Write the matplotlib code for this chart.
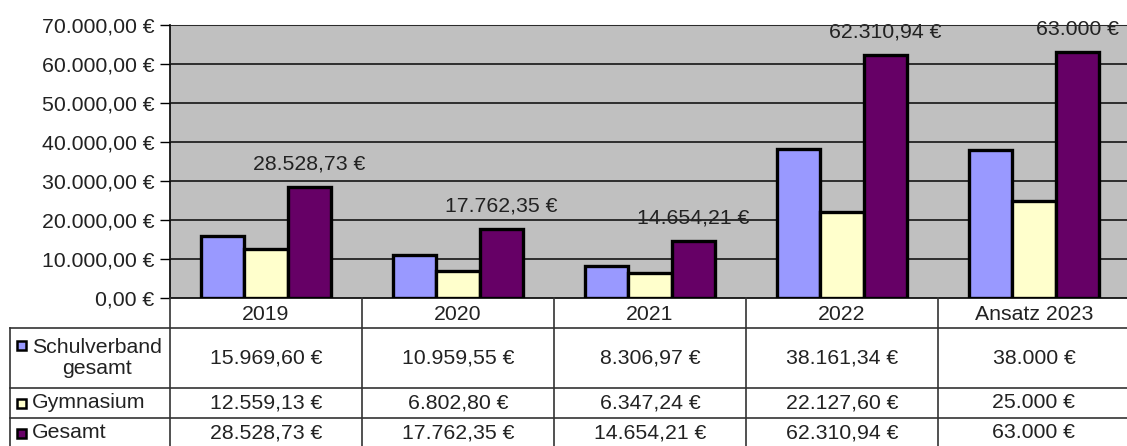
import numpy as np
import matplotlib
matplotlib.use("Agg")
import matplotlib.pyplot as plt
import matplotlib.transforms as mtransforms
from matplotlib.ticker import FuncFormatter

# Daten
kategorien = ["2019", "2020", "2021", "2022", "Ansatz 2023"]
schulverband = [15969.60, 10959.55, 8306.97, 38161.34, 38000.0]
gymnasium = [12559.13, 6802.80, 6347.24, 22127.60, 25000.0]
gesamt = [28528.73, 17762.35, 14654.21, 62310.94, 63000.0]

serien_namen = ["Schulverband\ngesamt", "Gymnasium", "Gesamt"]
serien_werte = [schulverband, gymnasium, gesamt]
serien_farben = ["#9999FF", "#FFFFCC", "#660066"]

# Texte in der Tabelle, so wie sie im Original stehen
tabelle_texte = [
    ["15.969,60 €", "10.959,55 €", "8.306,97 €", "38.161,34 €", "38.000 €"],
    ["12.559,13 €", "6.802,80 €", "6.347,24 €", "22.127,60 €", "25.000 €"],
    ["28.528,73 €", "17.762,35 €", "14.654,21 €", "62.310,94 €", "63.000 €"],
]
gesamt_label = tabelle_texte[2]

plt.rcParams["font.family"] = ["Liberation Sans", "DejaVu Sans"]
FS = 15.3
TXT = "#222222"

W, H = 1127, 446
fig = plt.figure(figsize=(W / 100, H / 100), dpi=100)

# Hauptdiagramm (Pixelmaße aus dem Original)
links, unten_px, oben_px, breite = 170, 298, 25, 960
ax = fig.add_axes([links / W, (H - unten_px) / H, breite / W, (unten_px - oben_px) / H])
ax.set_facecolor("#C0C0C0")

x = np.arange(len(kategorien))
bw = 0.224
for i, (werte, farbe) in enumerate(zip(serien_werte, serien_farben)):
    ax.bar(x + (i - 1) * bw, werte, bw, color=farbe, edgecolor="black",
           linewidth=2.4, zorder=3)

for xi, v, txt in zip(x, gesamt, gesamt_label):
    ax.annotate(txt, (xi + bw, v), xytext=(0, 16.5), textcoords="offset points",
                ha="center", va="center", fontsize=FS, color=TXT, zorder=1)

ax.set_xlim(-0.5, len(kategorien) - 0.5)
ax.set_ylim(0, 70000)
ax.set_yticks(np.arange(0, 70001, 10000))


def euro(v, pos):
    s = f"{v:,.2f}".replace(",", "X").replace(".", ",").replace("X", ".")
    return s + " €"


ax.yaxis.set_major_formatter(FuncFormatter(euro))
ax.tick_params(axis="y", length=7, width=1, pad=4, labelsize=FS, labelcolor=TXT)
ax.set_xticks([])
ax.grid(axis="y", color="#222222", linewidth=1.3, zorder=2)
ax.set_axisbelow(False)
for s in ["top", "right"]:
    ax.spines[s].set_color("#808080")
ax.spines["left"].set_color("black")
ax.spines["bottom"].set_color("black")
ax.spines["left"].set_linewidth(1.2)
ax.spines["bottom"].set_linewidth(1.2)

# Datentabelle unterhalb
tax = fig.add_axes([0, 0, 1, 1], facecolor="none")
tax.set_xlim(0, W)
tax.set_ylim(H, 0)
tax.axis("off")
trans = mtransforms.blended_transform_factory(ax.transData, tax.transData)

zeilen = [298, 328, 388, 418, 447]
lc = "#333333"
# senkrechte Linien der Spalten
for k in range(len(kategorien) + 1):
    tax.plot([k - 0.5, k - 0.5], [zeilen[0], zeilen[-1]], color=lc, lw=1.2,
             transform=trans, clip_on=False)
# linke Linie der Legendenspalte
tax.plot([10, 10], [zeilen[1], zeilen[-1]], color=lc, lw=1.2)
for y in zeilen[1:]:
    tax.plot([10, W], [y, y], color=lc, lw=1.2)

# Kopfzeile
for xi, kat in zip(x, kategorien):
    tax.text(xi, (zeilen[0] + zeilen[1]) / 2 + 1, kat, transform=trans,
             ha="center", va="center", fontsize=FS, color=TXT)

# Zeilen mit Legende und Werten
wert_y = [358, 403, 433]
legende_y = [345, 403, 433]
for name, farbe, texte, ym, yl in zip(serien_namen, serien_farben, tabelle_texte,
                                      wert_y, legende_y):
    tax.add_patch(plt.Rectangle((16.5, yl - 4.5), 9, 9, facecolor=farbe,
                                edgecolor="black", lw=1.8))
    tax.text(32, ym, name, ha="left", va="center", fontsize=FS, color=TXT,
             multialignment="center", linespacing=1.1)
    for xi, t in zip(x, texte):
        tax.text(xi, ym, t, transform=trans, ha="center", va="center",
                 fontsize=FS, color=TXT)

fig.savefig("out.png", dpi=100)
